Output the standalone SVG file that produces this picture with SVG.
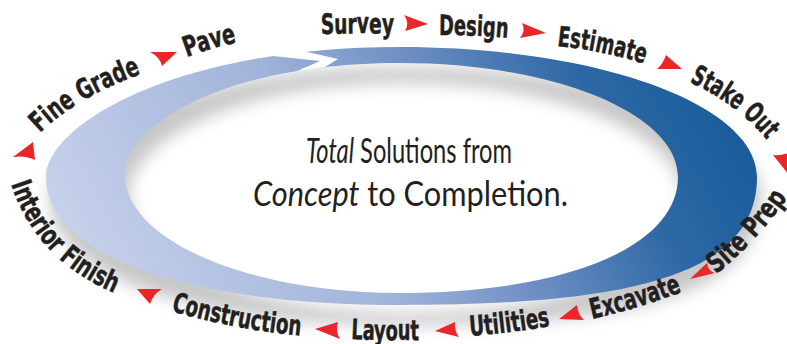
<svg xmlns="http://www.w3.org/2000/svg" width="787" height="344" viewBox="0 0 787 344">
<style>
.lbl{font-family:"Liberation Sans Narrow","DejaVu Sans Condensed","Liberation Sans",sans-serif;font-weight:bold;font-size:28px;fill:#231f20;stroke:#231f20;stroke-width:0.5px}
.ctr{font-family:Lato,"Open Sans","Liberation Sans",sans-serif;fill:#231f20}
.arw{fill:#e9262a}
</style>
<defs>
<linearGradient id="ringGrad" gradientUnits="userSpaceOnUse" x1="100" y1="330" x2="690" y2="0">
<stop offset="0" stop-color="#c9d3ec"/>
<stop offset="0.4" stop-color="#a0b3d9"/>
<stop offset="0.6" stop-color="#6c8dc2"/>
<stop offset="0.8" stop-color="#2d68a5"/>
<stop offset="1" stop-color="#165a99"/>
</linearGradient>
<filter id="blur" x="-10%" y="-20%" width="120%" height="150%">
<feGaussianBlur stdDeviation="8"/>
</filter>
<path id="ring" fill-rule="evenodd" d="M46,177 C46,127 170,47 400,47 C600,47 757,105 757,177 C757,272 640,305 400,305 C190,305 46,257 46,177 Z M125,175 C125,125 225,63 400,63 C555,63 678,114 678,177 C678,247 565,293 400,293 C248,293 125,240 125,175 Z"/>
<path id="p-pave" d="M187,57 Q216,46 250,40"/>
<path id="p-fine" d="M40,133 Q80,94 150,71"/>
<path id="p-survey" d="M321,34 Q362,33 404,34"/>
<path id="p-design" d="M439,35 Q479,35 520,39"/>
<path id="p-estimate" d="M557,46 Q607,51 658,68"/>
<path id="p-stake" d="M689,82 Q745,107 776,152"/>
<path id="p-interior" d="M11,184 Q40,272 140,302"/>
<path id="p-construction" d="M171,311 Q240,331 315,337"/>
<path id="p-layout" d="M351,339 Q391,341 431,340"/>
<path id="p-utilities" d="M470,336 Q515,333 560,324"/>
<path id="p-excavate" d="M592,319 Q645,307 694,287"/>
<path id="p-site" d="M716,274 Q760,240 800,180"/>
</defs>
<rect width="787" height="344" fill="#ffffff"/>
<g id="ring-shadow">
<use href="#ring" fill="#9a9a9a" opacity="0.55" transform="translate(4,20)" filter="url(#blur)"/>
</g>
<g id="ring-band">
<use href="#ring" fill="url(#ringGrad)"/>
<polygon points="273,56 273,42 303,42 303,51 338,59 325,67 297,71 320,61" fill="#ffffff"/>
</g>
<g id="center-text">
<text class="ctr" x="306" y="163" font-size="34" textLength="206" lengthAdjust="spacingAndGlyphs"><tspan font-style="italic">Total</tspan> Solutions from</text>
<text class="ctr" x="253" y="206" font-size="34" textLength="315" lengthAdjust="spacingAndGlyphs"><tspan font-style="italic">Concept</tspan> to Completion.</text>
</g>
<g id="survey"><text class="lbl"><textPath href="#p-survey" textLength="73" lengthAdjust="spacingAndGlyphs">Survey</textPath></text></g>
<g id="design"><text class="lbl"><textPath href="#p-design" textLength="69" lengthAdjust="spacingAndGlyphs">Design</textPath></text></g>
<g id="estimate"><text class="lbl"><textPath href="#p-estimate" textLength="89" lengthAdjust="spacingAndGlyphs">Estimate</textPath></text></g>
<g id="stake-out"><text class="lbl"><textPath href="#p-stake" textLength="98" lengthAdjust="spacingAndGlyphs">Stake Out</textPath></text></g>
<g id="site-prep"><text class="lbl"><textPath href="#p-site" textLength="105" lengthAdjust="spacingAndGlyphs">Site Prep</textPath></text></g>
<g id="excavate"><text class="lbl"><textPath href="#p-excavate" textLength="94" lengthAdjust="spacingAndGlyphs">Excavate</textPath></text></g>
<g id="utilities"><text class="lbl"><textPath href="#p-utilities" textLength="81" lengthAdjust="spacingAndGlyphs">Utilities</textPath></text></g>
<g id="layout"><text class="lbl"><textPath href="#p-layout" textLength="68" lengthAdjust="spacingAndGlyphs">Layout</textPath></text></g>
<g id="construction"><text class="lbl"><textPath href="#p-construction" textLength="132" lengthAdjust="spacingAndGlyphs">Construction</textPath></text></g>
<g id="interior-finish"><text class="lbl"><textPath href="#p-interior" textLength="155" lengthAdjust="spacingAndGlyphs">Interior Finish</textPath></text></g>
<g id="fine-grade"><text class="lbl"><textPath href="#p-fine" textLength="118" lengthAdjust="spacingAndGlyphs">Fine Grade</textPath></text></g>
<g id="pave"><text class="lbl"><textPath href="#p-pave" textLength="52" lengthAdjust="spacingAndGlyphs">Pave</textPath></text></g>
<g id="connectors">
<path class="arw" d="M428,24 L404,15 Q410,23 405,31 Z"/>
<path class="arw" d="M546,33 L522,23 Q526,31 520,38 Z"/>
<path class="arw" d="M682,69 L666,55 Q663,64 657,69 Z"/>
<path class="arw" d="M789,175 L773,155 Q783,156 793,151 Z"/>
<path class="arw" d="M690,279 L707,263 Q708,271 715,273 Z"/>
<path class="arw" d="M559,319 L577,305 Q578,315 584,320 Z"/>
<path class="arw" d="M435,331 L455,322 Q454,331 459,337 Z"/>
<path class="arw" d="M315,329 L338,322 Q335,331 340,339 Z"/>
<path class="arw" d="M137,289 L162,289 Q153,294 150,304 Z"/>
<path class="arw" d="M33,142 L35,160 Q25,155 13,157 Z"/>
<path class="arw" d="M177,52 L162,66 Q160,57 150,52 Z"/>
</g>
</svg>
